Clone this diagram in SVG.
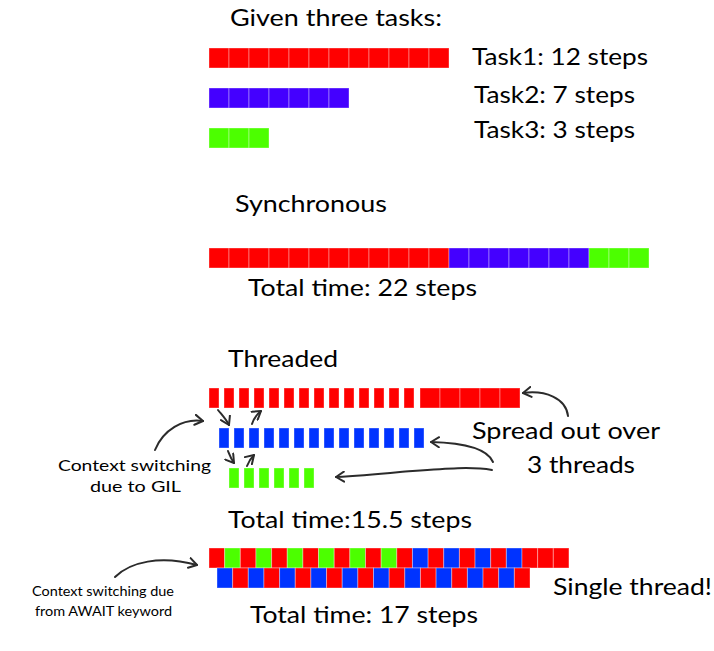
<svg xmlns="http://www.w3.org/2000/svg" width="714" height="651" viewBox="0 0 714 651">
<defs>
<style>
text{font-family:Lato,"Open Sans","Liberation Sans",sans-serif;fill:#000}
.t{font-size:24px}
.s1{font-size:16px}
.s2{font-size:13.5px}
rect{stroke:#ffffff;stroke-opacity:0.35;stroke-width:1}
.r{fill:#ff0000}
.i{fill:#4400ff}
.g{fill:#4cff00}
.b{fill:#0033ff}
.c{fill:none;stroke:#2b2b2b;stroke-width:2;stroke-linecap:round}
</style>
<marker id="ah" viewBox="0 0 10 12" refX="9" refY="6" markerWidth="10" markerHeight="12" markerUnits="userSpaceOnUse" orient="auto">
<path d="M1,1 L9,6 L1,11" fill="none" stroke="#2b2b2b" stroke-width="2" stroke-linecap="round" stroke-linejoin="round"/>
</marker>
</defs>
<rect x="0" y="0" width="714" height="651" fill="#ffffff" stroke="none"/>

<g id="title"><text class="t" x="230" y="26" textLength="212" lengthAdjust="spacingAndGlyphs">Given three tasks:</text></g>

<g id="task1">
<rect class="r" x="209" y="48" width="20" height="20"/><rect class="r" x="229" y="48" width="20" height="20"/><rect class="r" x="249" y="48" width="20" height="20"/><rect class="r" x="269" y="48" width="20" height="20"/><rect class="r" x="289" y="48" width="20" height="20"/><rect class="r" x="309" y="48" width="20" height="20"/><rect class="r" x="329" y="48" width="20" height="20"/><rect class="r" x="349" y="48" width="20" height="20"/><rect class="r" x="369" y="48" width="20" height="20"/><rect class="r" x="389" y="48" width="20" height="20"/><rect class="r" x="409" y="48" width="20" height="20"/><rect class="r" x="429" y="48" width="20" height="20"/>
<text class="t" x="472" y="65" textLength="176" lengthAdjust="spacingAndGlyphs">Task1: 12 steps</text>
</g>
<g id="task2">
<rect class="i" x="209" y="88" width="20" height="20"/><rect class="i" x="229" y="88" width="20" height="20"/><rect class="i" x="249" y="88" width="20" height="20"/><rect class="i" x="269" y="88" width="20" height="20"/><rect class="i" x="289" y="88" width="20" height="20"/><rect class="i" x="309" y="88" width="20" height="20"/><rect class="i" x="329" y="88" width="20" height="20"/>
<text class="t" x="474" y="103" textLength="161" lengthAdjust="spacingAndGlyphs">Task2: 7 steps</text>
</g>
<g id="task3">
<rect class="g" x="209" y="128" width="20" height="20"/><rect class="g" x="229" y="128" width="20" height="20"/><rect class="g" x="249" y="128" width="20" height="20"/>
<text class="t" x="474" y="138" textLength="161" lengthAdjust="spacingAndGlyphs">Task3: 3 steps</text>
</g>

<g id="synchronous">
<text class="t" x="235" y="212" textLength="152" lengthAdjust="spacingAndGlyphs">Synchronous</text>
<rect class="r" x="209" y="248" width="20" height="20"/><rect class="r" x="229" y="248" width="20" height="20"/><rect class="r" x="249" y="248" width="20" height="20"/><rect class="r" x="269" y="248" width="20" height="20"/><rect class="r" x="289" y="248" width="20" height="20"/><rect class="r" x="309" y="248" width="20" height="20"/><rect class="r" x="329" y="248" width="20" height="20"/><rect class="r" x="349" y="248" width="20" height="20"/><rect class="r" x="369" y="248" width="20" height="20"/><rect class="r" x="389" y="248" width="20" height="20"/><rect class="r" x="409" y="248" width="20" height="20"/><rect class="r" x="429" y="248" width="20" height="20"/>
<rect class="i" x="449" y="248" width="20" height="20"/><rect class="i" x="469" y="248" width="20" height="20"/><rect class="i" x="489" y="248" width="20" height="20"/><rect class="i" x="509" y="248" width="20" height="20"/><rect class="i" x="529" y="248" width="20" height="20"/><rect class="i" x="549" y="248" width="20" height="20"/><rect class="i" x="569" y="248" width="20" height="20"/>
<rect class="g" x="589" y="248" width="20" height="20"/><rect class="g" x="609" y="248" width="20" height="20"/><rect class="g" x="629" y="248" width="20" height="20"/>
<text class="t" x="248" y="296" textLength="229" lengthAdjust="spacingAndGlyphs">Total time: 22 steps</text>
</g>

<g id="threaded">
<text class="t" x="228" y="367" textLength="110" lengthAdjust="spacingAndGlyphs">Threaded</text>
<g id="thread-red">
<rect class="r" x="209" y="388" width="10" height="20"/><rect class="r" x="224" y="388" width="10" height="20"/><rect class="r" x="239" y="388" width="10" height="20"/><rect class="r" x="254" y="388" width="10" height="20"/><rect class="r" x="269" y="388" width="10" height="20"/><rect class="r" x="284" y="388" width="10" height="20"/><rect class="r" x="299" y="388" width="10" height="20"/><rect class="r" x="314" y="388" width="10" height="20"/><rect class="r" x="329" y="388" width="10" height="20"/><rect class="r" x="344" y="388" width="10" height="20"/><rect class="r" x="359" y="388" width="10" height="20"/><rect class="r" x="374" y="388" width="10" height="20"/><rect class="r" x="389" y="388" width="10" height="20"/><rect class="r" x="404" y="388" width="10" height="20"/>
<rect class="r" x="420" y="388" width="20" height="20"/><rect class="r" x="440" y="388" width="20" height="20"/><rect class="r" x="460" y="388" width="20" height="20"/><rect class="r" x="480" y="388" width="20" height="20"/><rect class="r" x="500" y="388" width="20" height="20"/>
</g>
<g id="thread-blue">
<rect class="b" x="219" y="428" width="10" height="20"/><rect class="b" x="234" y="428" width="10" height="20"/><rect class="b" x="249" y="428" width="10" height="20"/><rect class="b" x="264" y="428" width="10" height="20"/><rect class="b" x="279" y="428" width="10" height="20"/><rect class="b" x="294" y="428" width="10" height="20"/><rect class="b" x="309" y="428" width="10" height="20"/><rect class="b" x="324" y="428" width="10" height="20"/><rect class="b" x="339" y="428" width="10" height="20"/><rect class="b" x="354" y="428" width="10" height="20"/><rect class="b" x="369" y="428" width="10" height="20"/><rect class="b" x="384" y="428" width="10" height="20"/><rect class="b" x="399" y="428" width="10" height="20"/><rect class="b" x="414" y="428" width="10" height="20"/>
</g>
<g id="thread-green">
<rect class="g" x="229" y="468" width="10" height="20"/><rect class="g" x="244" y="468" width="10" height="20"/><rect class="g" x="259" y="468" width="10" height="20"/><rect class="g" x="274" y="468" width="10" height="20"/><rect class="g" x="289" y="468" width="10" height="20"/><rect class="g" x="304" y="468" width="10" height="20"/>
</g>
<text class="t" x="472" y="439" textLength="188" lengthAdjust="spacingAndGlyphs">Spread out over</text>
<text class="t" x="527" y="473" textLength="108" lengthAdjust="spacingAndGlyphs">3 threads</text>
<text class="s1" x="58" y="471" textLength="153" lengthAdjust="spacingAndGlyphs">Context switching</text>
<text class="s1" x="90" y="492" textLength="91" lengthAdjust="spacingAndGlyphs">due to GIL</text>
<text class="t" x="228" y="528" textLength="244" lengthAdjust="spacingAndGlyphs">Total time:15.5 steps</text>
</g>

<g id="async">
<g id="async-top">
<rect class="r" x="209" y="548" width="15.65" height="20"/><rect class="g" x="224.65" y="548" width="15.65" height="20"/><rect class="r" x="240.3" y="548" width="15.65" height="20"/><rect class="g" x="255.95" y="548" width="15.65" height="20"/><rect class="r" x="271.6" y="548" width="15.65" height="20"/><rect class="g" x="287.25" y="548" width="15.65" height="20"/><rect class="r" x="302.9" y="548" width="15.65" height="20"/><rect class="g" x="318.55" y="548" width="15.65" height="20"/><rect class="r" x="334.2" y="548" width="15.65" height="20"/><rect class="g" x="349.85" y="548" width="15.65" height="20"/><rect class="r" x="365.5" y="548" width="15.65" height="20"/><rect class="g" x="381.15" y="548" width="15.65" height="20"/><rect class="r" x="396.8" y="548" width="15.65" height="20"/><rect class="b" x="412.45" y="548" width="15.65" height="20"/><rect class="r" x="428.1" y="548" width="15.65" height="20"/><rect class="b" x="443.75" y="548" width="15.65" height="20"/><rect class="r" x="459.4" y="548" width="15.65" height="20"/><rect class="b" x="475.05" y="548" width="15.65" height="20"/><rect class="r" x="490.7" y="548" width="15.65" height="20"/><rect class="b" x="506.35" y="548" width="15.65" height="20"/><rect class="r" x="522" y="548" width="15.65" height="20"/><rect class="r" x="537.65" y="548" width="15.65" height="20"/><rect class="r" x="553.3" y="548" width="15.65" height="20"/>
</g>
<g id="async-bottom">
<rect class="b" x="217" y="568" width="15.65" height="20"/><rect class="r" x="232.65" y="568" width="15.65" height="20"/><rect class="b" x="248.3" y="568" width="15.65" height="20"/><rect class="r" x="263.95" y="568" width="15.65" height="20"/><rect class="b" x="279.6" y="568" width="15.65" height="20"/><rect class="r" x="295.25" y="568" width="15.65" height="20"/><rect class="b" x="310.9" y="568" width="15.65" height="20"/><rect class="r" x="326.55" y="568" width="15.65" height="20"/><rect class="b" x="342.2" y="568" width="15.65" height="20"/><rect class="r" x="357.85" y="568" width="15.65" height="20"/><rect class="b" x="373.5" y="568" width="15.65" height="20"/><rect class="r" x="389.15" y="568" width="15.65" height="20"/><rect class="b" x="404.8" y="568" width="15.65" height="20"/><rect class="r" x="420.45" y="568" width="15.65" height="20"/><rect class="b" x="436.1" y="568" width="15.65" height="20"/><rect class="r" x="451.75" y="568" width="15.65" height="20"/><rect class="b" x="467.4" y="568" width="15.65" height="20"/><rect class="r" x="483.05" y="568" width="15.65" height="20"/><rect class="b" x="498.7" y="568" width="15.65" height="20"/><rect class="r" x="514.35" y="568" width="15.65" height="20"/>
</g>
<text class="s2" x="32" y="596" textLength="142" lengthAdjust="spacingAndGlyphs">Context switching due</text>
<text class="s2" x="35" y="616" textLength="137" lengthAdjust="spacingAndGlyphs">from AWAIT keyword</text>
<text class="t" x="553" y="595" textLength="159" lengthAdjust="spacingAndGlyphs">Single thread!</text>
<text class="t" x="250" y="623" textLength="228" lengthAdjust="spacingAndGlyphs">Total time: 17 steps</text>
</g>

<g id="connectors">
<path class="c" marker-end="url(#ah)" d="M155,450 C163,430 183,418 203,421"/>
<path class="c" marker-end="url(#ah)" d="M218,410 C222,415 226,419 229,425"/>
<path class="c" marker-end="url(#ah)" d="M252,424 C254,418 257,414 261,411"/>
<path class="c" marker-end="url(#ah)" d="M228,451 C230,456 231,459 234,463"/>
<path class="c" marker-end="url(#ah)" d="M247,466 C249,461 251,458 254,455"/>
<path class="c" marker-end="url(#ah)" d="M568,416 C566,398 545,390 523,393"/>
<path class="c" marker-end="url(#ah)" d="M493,462 C488,450 468,443 431,442"/>
<path class="c" marker-end="url(#ah)" d="M492,470 C470,466 440,469 400,472 C380,474 360,476 336,477"/>
<path class="c" marker-end="url(#ah)" d="M115,577 C130,562 160,555 197,565"/>
</g>
</svg>
